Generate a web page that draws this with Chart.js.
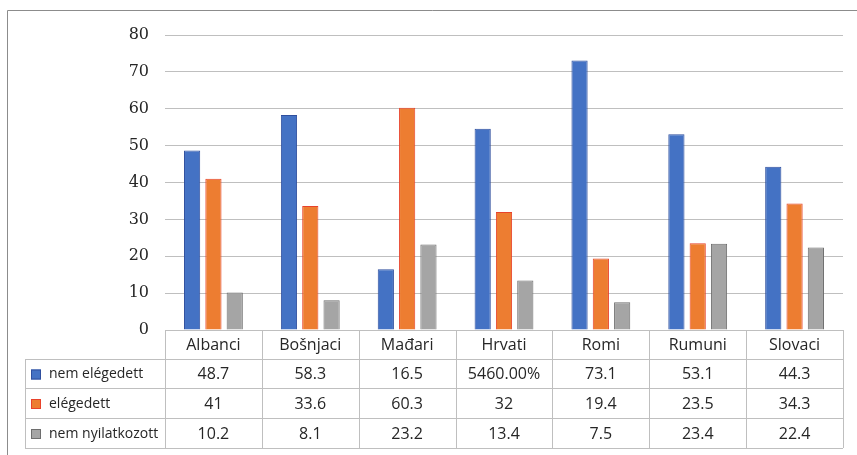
<!DOCTYPE html>
<html>
<head>
<meta charset="utf-8">
<script src="https://cdn.jsdelivr.net/npm/chart.js@4/dist/chart.umd.min.js"></script>
<style>
    html, body { margin: 0; padding: 0; background: #fff; }
    #wrap { width: 857px; height: 455px; }
</style>
</head>
<body>
<div id="wrap"><canvas id="chart" width="857" height="455"></canvas></div>
<script>
// Chart data
const categories = ['Albanci', 'Bošnjaci', 'Mađari', 'Hrvati', 'Romi', 'Rumuni', 'Slovaci'];
const seriesNames = ['nem elégedett', 'elégedett', 'nem nyilatkozott'];
const nemElegedett = [48.7, 58.3, 16.5, 54.6, 73.1, 53.1, 44.3];
const elegedett = [41, 33.6, 60.3, 32, 19.4, 23.5, 34.3];
const nemNyilatkozott = [10.2, 8.1, 23.2, 13.4, 7.5, 23.4, 22.4];
// table labels as shown in the original (Hrvati cell was formatted as a percent)
const tableLabels = [
    ['48.7', '58.3', '16.5', '5460.00%', '73.1', '53.1', '44.3'],
    ['41', '33.6', '60.3', '32', '19.4', '23.5', '34.3'],
    ['10.2', '8.1', '23.2', '13.4', '7.5', '23.4', '22.4']
];
const yTicks = [0, 10, 20, 30, 40, 50, 60, 70, 80];

const fills = ['#4472C4', '#ED7D31', '#A5A5A5'];
const borders = ['#2F4F9E', '#E8432B', '#6E6E6E'];
const lineColor = '#BFBFBF';

// Draws the data table under the plot, like an Excel chart data table
const dataTablePlugin = {
    id: 'dataTable',
    afterDraw(chart) {
        const ctx = chart.ctx;
        const xScale = chart.scales.x;
        const area = chart.chartArea;
        const n = categories.length;
        const colW = (area.right - area.left) / n;
        const top = area.bottom;
        const rowTops = [top, top + 29, top + 58, top + 88, top + 118];
        const tableLeft = 25;

        ctx.save();
        // outer frame (only left and top edges visible in the crop)
        ctx.strokeStyle = '#8C8C8C';
        ctx.lineWidth = 1;
        ctx.beginPath();
        ctx.moveTo(7.5, 455);
        ctx.lineTo(7.5, 10.5);
        ctx.lineTo(857, 10.5);
        ctx.stroke();

        ctx.strokeStyle = lineColor;
        ctx.beginPath();
        // horizontal lines
        ctx.moveTo(area.left, Math.round(rowTops[0]) + 0.5);
        ctx.lineTo(area.right, Math.round(rowTops[0]) + 0.5);
        for (let r = 1; r < rowTops.length; r++) {
            const y = Math.round(rowTops[r]) + 0.5;
            ctx.moveTo(tableLeft, y);
            ctx.lineTo(area.right, y);
        }
        // vertical lines
        for (let i = 0; i <= n; i++) {
            const x = Math.round(xScale.getPixelForValue(i) - colW / 2) + 0.5;
            ctx.moveTo(x, rowTops[0]);
            ctx.lineTo(x, rowTops[4]);
        }
        ctx.moveTo(tableLeft + 0.5, rowTops[1]);
        ctx.lineTo(tableLeft + 0.5, rowTops[4]);
        ctx.stroke();

        ctx.fillStyle = '#262626';
        ctx.textBaseline = 'middle';
        ctx.font = '16px "Open Sans", sans-serif';
        ctx.textAlign = 'center';
        categories.forEach((c, i) => {
            ctx.fillText(c, xScale.getPixelForValue(i), (rowTops[0] + rowTops[1]) / 2 + 1);
        });

        for (let s = 0; s < seriesNames.length; s++) {
            const yMid = (rowTops[s + 1] + rowTops[s + 2]) / 2 + 1;
            // legend key
            ctx.fillStyle = fills[s];
            ctx.fillRect(31, yMid - 5, 10, 10);
            ctx.strokeStyle = borders[s];
            ctx.strokeRect(31.5, yMid - 4.5, 9, 9);
            ctx.fillStyle = '#262626';
            ctx.textAlign = 'left';
            ctx.font = '14px "Open Sans", sans-serif';
            ctx.fillText(seriesNames[s], 49, yMid);
            ctx.textAlign = 'center';
            ctx.font = '16px "Open Sans", sans-serif';
            tableLabels[s].forEach((v, i) => {
                ctx.fillText(v, xScale.getPixelForValue(i), yMid);
            });
        }
        ctx.restore();
    }
};

const seriesData = [nemElegedett, elegedett, nemNyilatkozott];

new Chart(document.getElementById('chart'), {
    type: 'bar',
    data: {
        labels: categories,
        datasets: seriesNames.map((name, i) => ({
            label: name,
            data: seriesData[i],
            backgroundColor: fills[i],
            borderColor: borders[i],
            borderWidth: 1,
            categoryPercentage: 0.66,
            barPercentage: 0.76
        }))
    },
    options: {
        responsive: false,
        animation: false,
        devicePixelRatio: 1,
        layout: {
            padding: { left: 0, right: 14, top: 35, bottom: 125 }
        },
        plugins: {
            legend: { display: false },
            tooltip: { enabled: false }
        },
        scales: {
            x: {
                display: false
            },
            y: {
                min: 0,
                max: 80,
                afterBuildTicks(scale) {
                    scale.ticks = yTicks.map(v => ({ value: v }));
                },
                afterFit(scale) {
                    scale.width = 165;
                },
                border: { display: false },
                grid: {
                    color: lineColor,
                    lineWidth: 1,
                    drawTicks: false
                },
                ticks: {
                    padding: 16,
                    color: '#262626',
                    font: { family: '"DejaVu Serif", serif', size: 16 }
                }
            }
        }
    },
    plugins: [dataTablePlugin]
});
</script>
</body>
</html>
